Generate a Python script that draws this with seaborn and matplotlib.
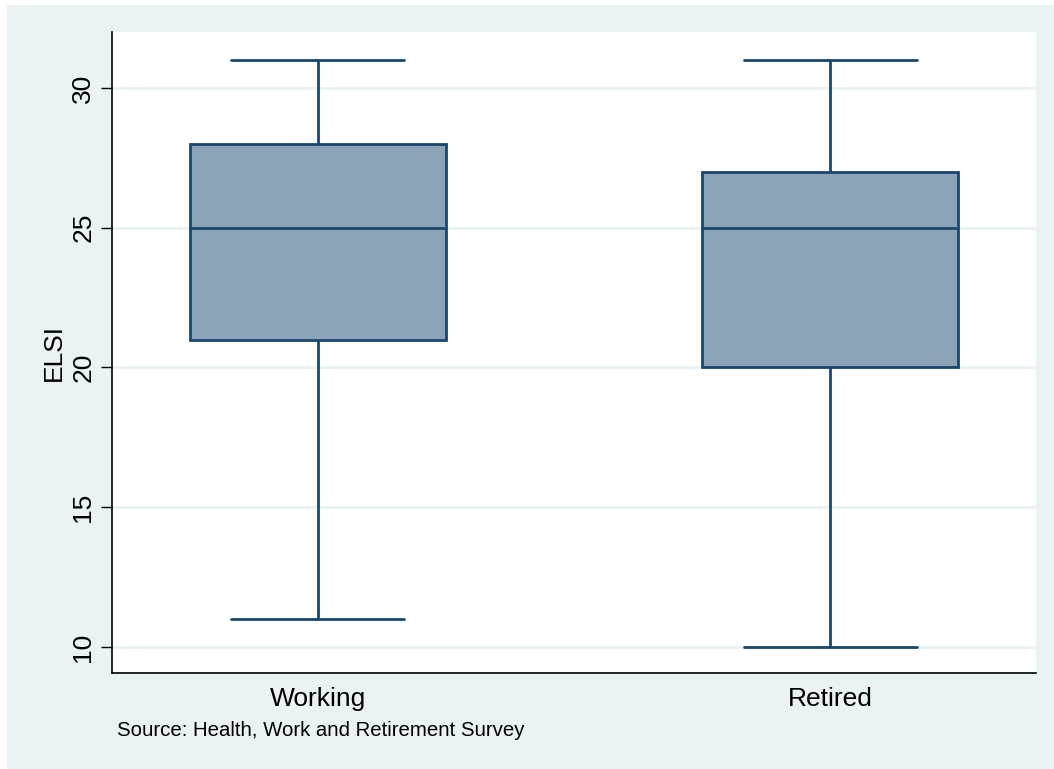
import matplotlib
matplotlib.use("Agg")
import matplotlib.pyplot as plt
import matplotlib.patches as mpatches
import pandas as pd
import seaborn as sns

# Summary of ELSI scores by employment status
groups = ["Working", "Retired"]
whisker_low = [11, 10]
q1 = [21, 20]
median = [25, 25]
q3 = [28, 27]
whisker_high = [31, 31]
y_ticks = [10, 15, 20, 25, 30]

# Five-point samples reproducing each group's box statistics
rows = []
for g, lo, a, m, b, hi in zip(groups, whisker_low, q1, median, q3, whisker_high):
    for v in (lo, a, m, b, hi):
        rows.append({"status": g, "ELSI": v})
df = pd.DataFrame(rows)

sns.set_theme(style="white")
plt.rcParams["font.family"] = ["Liberation Sans", "DejaVu Sans"]
plt.rcParams["text.color"] = "black"
plt.rcParams["axes.labelcolor"] = "black"
plt.rcParams["xtick.color"] = "black"
plt.rcParams["ytick.color"] = "black"

fig = plt.figure(figsize=(10.54, 7.69), dpi=100, facecolor="white")
fig.patches.append(mpatches.Rectangle((7 / 1054, 0), 1, (769 - 5) / 769,
                                      transform=fig.transFigure,
                                      facecolor="#EAF2F3", edgecolor="none",
                                      zorder=-10))

ax = fig.add_axes([112 / 1054, (769 - 673) / 769, (1036 - 112) / 1054, (673 - 32) / 769])
ax.set_facecolor("white")

edge = "#1A476F"
sns.boxplot(data=df, x="status", y="ELSI", order=groups, ax=ax,
            color="#8DA3B8", saturation=1, width=0.5, linecolor=edge,
            linewidth=2.0, whis=1.5, showfliers=False, capwidths=0.338)

ax.set_xlim(-0.402, 1.402)
ax.set_ylim(9.07, 32.0)
ax.set_yticks(y_ticks)
ax.set_yticklabels([str(t) for t in y_ticks], rotation=90, va="center",
                   fontsize=19, color="black")
ax.tick_params(axis="y", which="major", direction="out", length=8, width=1.0,
               color="black", labelcolor="black", left=True, pad=4)
ax.tick_params(axis="x", length=0, labelsize=19, labelcolor="black", pad=10)

ax.yaxis.grid(True, color="#EAF2F3", linewidth=2.2)
ax.set_axisbelow(True)

for side in ("top", "right"):
    ax.spines[side].set_visible(False)
for side in ("left", "bottom"):
    ax.spines[side].set_color("black")
    ax.spines[side].set_linewidth(1.2)

ax.set_xlabel("")
ax.set_ylabel("ELSI", fontsize=19, labelpad=4, color="black")

fig.text(117 / 1054, 1 - 731 / 769, "Source: Health, Work and Retirement Survey",
         fontsize=14.7, ha="left", va="center", color="black")

fig.savefig("out.png", dpi=100, facecolor=fig.get_facecolor())
